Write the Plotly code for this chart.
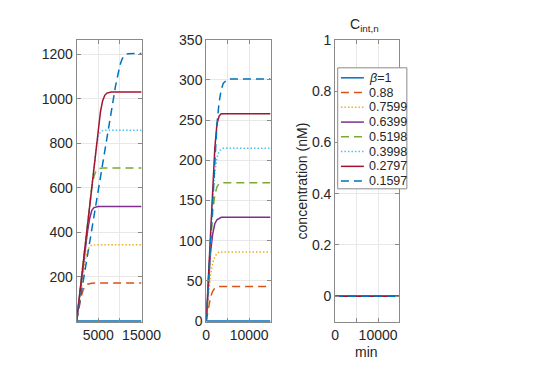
import plotly.graph_objects as go

# ---------------- data ----------------
labels = ["<i>β</i>=1", "0.88", "0.7599", "0.6399", "0.5198", "0.3998", "0.2797", "0.1597"]
colors = ["#0072BD", "#D95319", "#EDB120", "#7E2F8E", "#77AC30", "#4DBEEE", "#A2142F", "#0072BD"]
styles = ["solid", "dash", "dot", "solid", "dash", "dot", "solid", "dash"]

p1_t = [
    [0, 15000],
    [0, 500, 1000, 1500, 2000, 2500, 3000, 3500, 4000, 15000],
    [0, 500, 1000, 1500, 2000, 2500, 3000, 3500, 4000, 4500, 15000],
    [0, 1000, 2000, 2500, 3000, 3500, 4000, 4500, 5000, 15000],
    [0, 1000, 2000, 3000, 3500, 4000, 4500, 5000, 5500, 6000, 15000],
    [0, 1000, 2000, 3000, 4000, 4500, 5000, 5500, 6000, 6500, 15000],
    [0, 1000, 2000, 3000, 4000, 5000, 5500, 6000, 6500, 7000, 7500, 8000, 15000],
    [0, 1000, 2000, 3000, 4000, 5000, 6000, 7000, 8000, 9000, 9500, 10000, 10500, 11000, 11500, 12000, 15000],
]
p1_y = [
    [0, 0],
    [0, 55, 105, 140, 158, 166, 169, 170, 171, 171],
    [0, 70, 140, 210, 270, 315, 335, 341, 343, 343, 343],
    [0, 165, 330, 400, 460, 497, 510, 514, 515, 515],
    [0, 180, 360, 530, 600, 650, 675, 685, 688, 688, 688],
    [0, 175, 350, 525, 700, 775, 830, 850, 856, 858, 858],
    [0, 175, 350, 525, 700, 870, 940, 990, 1015, 1025, 1029, 1030, 1030],
    [0, 115, 232, 350, 468, 586, 704, 822, 940, 1058, 1110, 1150, 1178, 1193, 1200, 1202, 1203],
]

p2_t = [
    [0, 15000],
    [0, 500, 1000, 1500, 2000, 2500, 3000, 3500, 4000, 15000],
    [0, 500, 1000, 1500, 2000, 2500, 3000, 3500, 4000, 15000],
    [0, 500, 1000, 1500, 2000, 2500, 3000, 3500, 4000, 15000],
    [0, 500, 1000, 1500, 2000, 2500, 3000, 3500, 4000, 15000],
    [0, 500, 1000, 1500, 2000, 2500, 3000, 3500, 4000, 15000],
    [0, 500, 1000, 1500, 2000, 2500, 3000, 3500, 4000, 15000],
    [0, 500, 1000, 1500, 2000, 2500, 3000, 3500, 4000, 4500, 5000, 5500, 15000],
]
p2_y = [
    [0, 0],
    [0, 18, 30, 37, 41, 42, 43, 43, 43, 43],
    [0, 32, 57, 72, 80, 84, 86, 86, 86, 86],
    [0, 45, 85, 108, 121, 126, 128, 129, 129, 129],
    [0, 50, 98, 135, 157, 167, 171, 172, 172, 172],
    [0, 52, 104, 150, 185, 203, 211, 214, 215, 215],
    [0, 55, 110, 165, 215, 245, 255, 258, 258, 258],
    [0, 52, 104, 155, 205, 245, 272, 288, 296, 299, 301, 301, 301],
]

p3_t = [0, 15000]
p3_y = [0, 0]

p1_yticks = [200, 400, 600, 800, 1000, 1200]
p1_xticks = [5000, 15000]
p1_xticktext = ["5000", "15000"]
p1_xminor = [10000]
p2_yticks = [0, 50, 100, 150, 200, 250, 300, 350]
p23_xticks = [0, 10000]
p23_xticktext = ["0", "10000"]
p23_xminor = [5000, 15000]
p3_yticks = [0, 0.2, 0.4, 0.6, 0.8, 1]
p3_yticktext = ["0", "0.2", "0.4", "0.6", "0.8", "1"]

# ---------------- figure ----------------
W, H = 537, 377
FONT = "Liberation Sans, Arial, Helvetica, sans-serif"
TXT = "#262626"
AX = "#8a8a8a"
dash_map = {"solid": "solid", "dash": "8px,5px", "dot": "1.5px,2px"}

fig = go.Figure()
for i in range(8):
    fig.add_trace(go.Scatter(x=p1_t[i], y=p1_y[i], mode="lines", xaxis="x", yaxis="y",
                             line=dict(color=colors[i], width=1.5, dash=dash_map[styles[i]]),
                             showlegend=False, hoverinfo="skip"))
for i in range(8):
    fig.add_trace(go.Scatter(x=p2_t[i], y=p2_y[i], mode="lines", xaxis="x2", yaxis="y2",
                             line=dict(color=colors[i], width=1.5, dash=dash_map[styles[i]]),
                             showlegend=False, hoverinfo="skip"))
for i in range(8):
    fig.add_trace(go.Scatter(x=p3_t, y=p3_y, mode="lines", xaxis="x3", yaxis="y3",
                             name=labels[i],
                             line=dict(color=colors[i], width=1.5, dash=dash_map[styles[i]]),
                             showlegend=False, hoverinfo="skip"))

ytop = 1 - 33 / H
ybot = 1 - 327 / H

def px(a, b):
    return [a / W, b / W]

axis_common = dict(showline=True, linecolor=AX, linewidth=1, mirror="ticks",
                   ticks="inside", ticklen=4, tickcolor=AX,
                   showgrid=True, gridcolor="#e8e8e8", gridwidth=1, zeroline=False,
                   tickfont=dict(family=FONT, size=14, color=TXT))
minor_common = dict(ticks="inside", ticklen=4, tickcolor=AX, showgrid=True,
                    gridcolor="#e8e8e8", gridwidth=1)

# legend drawn like the reference (box, line samples, labels)
leg_x0, leg_x1, leg_y0, leg_y1 = 349.3, 421.7, 62.3, 188.3
row0, rowstep = 72.7, 15.37
shapes = [dict(type="rect", xref="paper", yref="paper",
               x0=leg_x0 / W, x1=leg_x1 / W, y0=1 - leg_y1 / H, y1=1 - leg_y0 / H,
               line=dict(color=AX, width=1), fillcolor="white", layer="above")]
annotations = []
for i in range(8):
    yc = 1 - (row0 + i * rowstep) / H
    shapes.append(dict(type="line", xref="paper", yref="paper",
                       x0=352.7 / W, x1=376.7 / W, y0=yc, y1=yc, layer="above",
                       line=dict(color=colors[i], width=1.5, dash=dash_map[styles[i]])))
    annotations.append(dict(text=labels[i], x=380.5 / W, y=yc, xref="paper", yref="paper",
                            showarrow=False, xanchor="left", yanchor="middle",
                            font=dict(family=FONT, size=12.5, color=TXT)))

annotations += [
    dict(text="C<sub>int,n</sub>", x=377 / W, y=1 - 18 / H, xref="paper", yref="paper",
         showarrow=False, xanchor="center", yanchor="middle",
         font=dict(family=FONT, size=14, color=TXT)),
    dict(text="concentration (nM)", x=311.5 / W, y=1 - 180 / H, xref="paper", yref="paper",
         showarrow=False, textangle=-90, xanchor="center", yanchor="middle",
         font=dict(family=FONT, size=14, color=TXT)),
    dict(text="min", x=379 / W, y=1 - 358 / H, xref="paper", yref="paper",
         showarrow=False, xanchor="center", yanchor="middle",
         font=dict(family=FONT, size=14, color=TXT)),
]

fig.update_layout(
    width=W, height=H,
    margin=dict(l=0, r=0, t=0, b=0),
    paper_bgcolor="white", plot_bgcolor="white",
    font=dict(family=FONT, color=TXT),
    showlegend=False,
    xaxis=dict(domain=px(76, 144), range=[0, 15000], anchor="y",
               tickmode="array", tickvals=p1_xticks, ticktext=p1_xticktext,
               minor=dict(tickmode="array", tickvals=p1_xminor, **minor_common), **axis_common),
    yaxis=dict(domain=[ybot, ytop], range=[-4, 1265], anchor="x",
               tickmode="array", tickvals=p1_yticks, **axis_common),
    xaxis2=dict(domain=px(211.7, 279), range=[0, 15000], anchor="y2",
                tickmode="array", tickvals=p23_xticks, ticktext=p23_xticktext,
                minor=dict(tickmode="array", tickvals=p23_xminor, **minor_common), **axis_common),
    yaxis2=dict(domain=[ybot, ytop], range=[-1.2, 350], anchor="x2",
                tickmode="array", tickvals=p2_yticks, **axis_common),
    xaxis3=dict(domain=px(346.7, 414), range=[0, 15000], anchor="y3",
                tickmode="array", tickvals=p23_xticks, ticktext=p23_xticktext,
                minor=dict(tickmode="array", tickvals=p23_xminor, **minor_common), **axis_common),
    yaxis3=dict(domain=[ybot, ytop], range=[-0.1, 1], anchor="x3",
                tickmode="array", tickvals=p3_yticks, ticktext=p3_yticktext, **axis_common),
    shapes=shapes,
    annotations=annotations,
)

fig.write_html("out.html", config={"displayModeBar": False},
               post_script="document.body.style.margin='0';")
